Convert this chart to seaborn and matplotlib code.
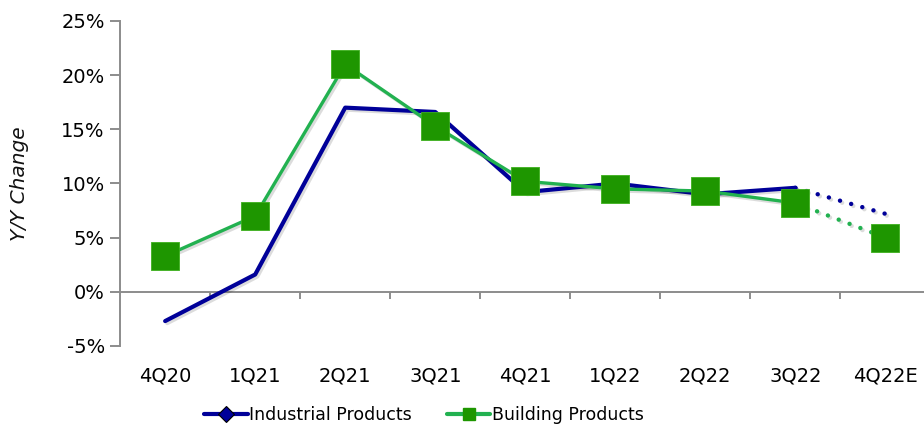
import numpy as np
import pandas as pd
import matplotlib
matplotlib.use("Agg")
import matplotlib.pyplot as plt
import matplotlib.patheffects as pe
from matplotlib.lines import Line2D
from matplotlib.ticker import FixedLocator, PercentFormatter
import seaborn as sns

quarters = ["4Q20", "1Q21", "2Q21", "3Q21", "4Q21", "1Q22", "2Q22", "3Q22", "4Q22E"]
industrial = [-2.7, 1.6, 17.0, 16.6, 9.2, 10.0, 9.0, 9.6, 7.2]
building = [3.3, 7.0, 21.0, 15.3, 10.2, 9.5, 9.3, 8.2, 5.0]
n_actual = 8  # last quarter is an estimate, drawn dotted

NAVY = "#000099"
GREEN_LINE = "#22B150"
GREEN_MARK = "#1E9600"
AXIS_GREY = "#8C8C8C"

sns.set_theme(style="white")
plt.rcParams["font.family"] = ["DejaVu Sans"]
plt.rcParams["axes.unicode_minus"] = False
plt.rcParams["text.color"] = "black"

df = pd.DataFrame({"pos": np.arange(len(quarters)), "quarter": quarters,
                   "Industrial Products": industrial, "Building Products": building})
actual = df.iloc[:n_actual]
estimate = df.iloc[n_actual - 1:]

fig = plt.figure(figsize=(9.24, 4.28), dpi=100)
ax = fig.add_axes([0.130, 0.1916, 0.877, 0.7594])

shadow = [pe.SimpleLineShadow(offset=(1.5, -1.5), shadow_color="k", alpha=0.15), pe.Normal()]

# Solid history lines
sns.lineplot(data=actual, x="pos", y="Industrial Products", ax=ax, color=NAVY,
             linewidth=3.0, path_effects=shadow, zorder=3)
sns.lineplot(data=actual, x="pos", y="Building Products", ax=ax, color=GREEN_LINE,
             linewidth=2.4, path_effects=shadow, zorder=4)

# Dotted estimate segments
sns.lineplot(data=estimate, x="pos", y="Industrial Products", ax=ax, color=NAVY,
             linewidth=3.2, linestyle=(0, (0.01, 2.6)), dash_capstyle="round",
             path_effects=shadow, zorder=3)
sns.lineplot(data=estimate, x="pos", y="Building Products", ax=ax, color=GREEN_LINE,
             linewidth=3.2, linestyle=(0, (0.01, 2.6)), dash_capstyle="round",
             path_effects=shadow, zorder=4)

# Square markers for building products
sns.scatterplot(data=df, x="pos", y="Building Products", ax=ax, marker="s", s=20.5 ** 2,
                color=GREEN_MARK, edgecolor="#3DB01E", linewidth=0.6, zorder=5)

ax.set_xlim(-0.5, len(quarters) - 0.5)
ax.set_ylim(-5, 25)
ax.set_yticks(np.arange(-5, 26, 5))
ax.yaxis.set_major_formatter(PercentFormatter(decimals=0))

# x-axis sits on the zero line, ticks between categories, labels below the plot
ax.spines["bottom"].set_position(("data", 0))
ax.set_xticks(df["pos"])
ax.set_xticklabels(quarters)
ax.xaxis.set_minor_locator(FixedLocator(np.arange(0.5, len(quarters) - 0.5, 1)))
ax.tick_params(axis="x", which="major", length=0, pad=54, labelsize=14, labelcolor="black")
ax.tick_params(axis="x", which="minor", bottom=True, length=5, width=1.4, color=AXIS_GREY,
               direction="out")
ax.tick_params(axis="y", which="major", left=True, length=7, width=1.4, color=AXIS_GREY,
               direction="out", labelsize=14, pad=4, labelcolor="black")

for side in ("top", "right"):
    ax.spines[side].set_visible(False)
for side in ("left", "bottom"):
    ax.spines[side].set_color(AXIS_GREY)
    ax.spines[side].set_linewidth(1.4)

ax.set_xlabel("")
ax.set_ylabel("Y/Y Change", fontsize=14.5, fontstyle="italic", color="#111111")
ax.yaxis.set_label_coords(-0.113, 0.5)

handles = [
    Line2D([], [], color=NAVY, linewidth=3, marker="D", markersize=8,
           markerfacecolor=NAVY, markeredgecolor="black", markeredgewidth=0.8),
    Line2D([], [], color=GREEN_LINE, linewidth=3, marker="s", markersize=9,
           markerfacecolor=GREEN_MARK, markeredgecolor=GREEN_MARK),
]
leg = fig.legend(handles, ["Industrial Products", "Building Products"], loc="center",
                 bbox_to_anchor=(0.459, 0.030), ncol=2, frameon=False, fontsize=12.5,
                 handlelength=2.5, handletextpad=0.1, columnspacing=2.0)
for t in leg.get_texts():
    t.set_color("black")

fig.savefig("out.png", dpi=100)
